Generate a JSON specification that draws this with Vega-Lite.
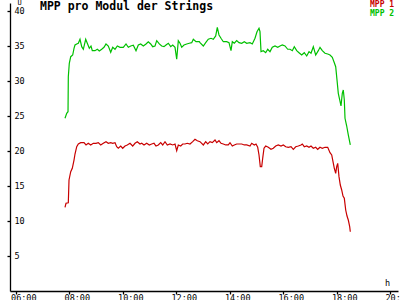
{
  "$schema": "https://vega.github.io/schema/vega-lite/v6.json",
  "width": 388,
  "height": 288,
  "autosize": "none",
  "padding": {"left": 10, "top": 3, "right": 2, "bottom": 9},
  "background": "white",
  "config": {"view": {"stroke": null}, "font": "DejaVu Sans Mono"},
  "title": {"text": "MPP pro Modul der Strings", "anchor": "start", "frame": "group", "font": "DejaVu Sans Mono", "fontSize": 11.5, "fontWeight": "bold", "color": "black", "dx": 30, "offset": -14},
  "layer": [
    {
      "data": {"values": [
        {"t":7.850,"s":"MPP 1","v":11.96},{"t":7.888,"s":"MPP 1","v":12.53},{"t":7.974,"s":"MPP 1","v":12.61},{"t":8.000,"s":"MPP 1","v":15.86},{"t":8.064,"s":"MPP 1","v":17.04},{"t":8.123,"s":"MPP 1","v":17.53},{"t":8.187,"s":"MPP 1","v":18.71},{"t":8.224,"s":"MPP 1","v":19.57},{"t":8.288,"s":"MPP 1","v":20.61},{"t":8.348,"s":"MPP 1","v":21.0},{"t":8.437,"s":"MPP 1","v":21.19},{"t":8.561,"s":"MPP 1","v":21.19},{"t":8.636,"s":"MPP 1","v":20.86},{"t":8.721,"s":"MPP 1","v":21.1},{"t":8.811,"s":"MPP 1","v":20.86},{"t":8.908,"s":"MPP 1","v":21.1},{"t":9.009,"s":"MPP 1","v":21.1},{"t":9.095,"s":"MPP 1","v":21.19},{"t":9.185,"s":"MPP 1","v":20.86},{"t":9.282,"s":"MPP 1","v":21.1},{"t":9.383,"s":"MPP 1","v":21.33},{"t":9.469,"s":"MPP 1","v":21.1},{"t":9.559,"s":"MPP 1","v":21.19},{"t":9.634,"s":"MPP 1","v":21.1},{"t":9.720,"s":"MPP 1","v":21.19},{"t":9.783,"s":"MPP 1","v":20.61},{"t":9.843,"s":"MPP 1","v":20.39},{"t":9.933,"s":"MPP 1","v":20.71},{"t":10.007,"s":"MPP 1","v":20.39},{"t":10.093,"s":"MPP 1","v":20.71},{"t":10.179,"s":"MPP 1","v":20.86},{"t":10.280,"s":"MPP 1","v":21.1},{"t":10.381,"s":"MPP 1","v":20.71},{"t":10.467,"s":"MPP 1","v":21.1},{"t":10.553,"s":"MPP 1","v":21.33},{"t":10.654,"s":"MPP 1","v":21.0},{"t":10.718,"s":"MPP 1","v":21.1},{"t":10.804,"s":"MPP 1","v":20.86},{"t":10.905,"s":"MPP 1","v":21.1},{"t":11.002,"s":"MPP 1","v":20.86},{"t":11.092,"s":"MPP 1","v":21.0},{"t":11.178,"s":"MPP 1","v":21.1},{"t":11.252,"s":"MPP 1","v":20.71},{"t":11.338,"s":"MPP 1","v":20.86},{"t":11.428,"s":"MPP 1","v":21.19},{"t":11.503,"s":"MPP 1","v":20.86},{"t":11.589,"s":"MPP 1","v":21.33},{"t":11.675,"s":"MPP 1","v":20.86},{"t":11.776,"s":"MPP 1","v":21.0},{"t":11.877,"s":"MPP 1","v":20.86},{"t":11.963,"s":"MPP 1","v":21.0},{"t":12.026,"s":"MPP 1","v":20.04},{"t":12.086,"s":"MPP 1","v":20.86},{"t":12.176,"s":"MPP 1","v":20.71},{"t":12.250,"s":"MPP 1","v":21.0},{"t":12.336,"s":"MPP 1","v":21.0},{"t":12.422,"s":"MPP 1","v":21.1},{"t":12.523,"s":"MPP 1","v":21.0},{"t":12.624,"s":"MPP 1","v":21.33},{"t":12.710,"s":"MPP 1","v":21.67},{"t":12.796,"s":"MPP 1","v":21.47},{"t":12.897,"s":"MPP 1","v":21.33},{"t":13.021,"s":"MPP 1","v":20.86},{"t":13.110,"s":"MPP 1","v":21.33},{"t":13.185,"s":"MPP 1","v":21.0},{"t":13.271,"s":"MPP 1","v":21.33},{"t":13.357,"s":"MPP 1","v":21.19},{"t":13.458,"s":"MPP 1","v":21.57},{"t":13.521,"s":"MPP 1","v":21.19},{"t":13.607,"s":"MPP 1","v":21.47},{"t":13.682,"s":"MPP 1","v":21.1},{"t":13.768,"s":"MPP 1","v":21.0},{"t":13.858,"s":"MPP 1","v":20.86},{"t":13.955,"s":"MPP 1","v":20.86},{"t":14.019,"s":"MPP 1","v":21.19},{"t":14.105,"s":"MPP 1","v":20.71},{"t":14.179,"s":"MPP 1","v":20.86},{"t":14.269,"s":"MPP 1","v":21.0},{"t":14.355,"s":"MPP 1","v":21.0},{"t":14.456,"s":"MPP 1","v":21.0},{"t":14.553,"s":"MPP 1","v":20.86},{"t":14.643,"s":"MPP 1","v":20.86},{"t":14.766,"s":"MPP 1","v":20.71},{"t":14.830,"s":"MPP 1","v":21.1},{"t":14.927,"s":"MPP 1","v":20.86},{"t":14.991,"s":"MPP 1","v":21.0},{"t":15.054,"s":"MPP 1","v":20.53},{"t":15.103,"s":"MPP 1","v":19.43},{"t":15.151,"s":"MPP 1","v":17.76},{"t":15.204,"s":"MPP 1","v":17.76},{"t":15.241,"s":"MPP 1","v":18.96},{"t":15.290,"s":"MPP 1","v":20.39},{"t":15.353,"s":"MPP 1","v":20.71},{"t":15.450,"s":"MPP 1","v":20.53},{"t":15.551,"s":"MPP 1","v":20.24},{"t":15.637,"s":"MPP 1","v":20.39},{"t":15.727,"s":"MPP 1","v":20.71},{"t":15.824,"s":"MPP 1","v":20.86},{"t":15.925,"s":"MPP 1","v":20.71},{"t":16.011,"s":"MPP 1","v":20.86},{"t":16.101,"s":"MPP 1","v":20.61},{"t":16.198,"s":"MPP 1","v":20.53},{"t":16.299,"s":"MPP 1","v":20.61},{"t":16.385,"s":"MPP 1","v":20.24},{"t":16.475,"s":"MPP 1","v":20.61},{"t":16.572,"s":"MPP 1","v":20.71},{"t":16.673,"s":"MPP 1","v":20.86},{"t":16.721,"s":"MPP 1","v":21.0},{"t":16.796,"s":"MPP 1","v":20.61},{"t":16.886,"s":"MPP 1","v":20.71},{"t":16.972,"s":"MPP 1","v":20.53},{"t":17.047,"s":"MPP 1","v":20.71},{"t":17.133,"s":"MPP 1","v":20.39},{"t":17.222,"s":"MPP 1","v":20.53},{"t":17.297,"s":"MPP 1","v":20.24},{"t":17.383,"s":"MPP 1","v":20.53},{"t":17.469,"s":"MPP 1","v":20.39},{"t":17.570,"s":"MPP 1","v":20.53},{"t":17.671,"s":"MPP 1","v":20.53},{"t":17.757,"s":"MPP 1","v":19.76},{"t":17.821,"s":"MPP 1","v":19.43},{"t":17.869,"s":"MPP 1","v":18.47},{"t":17.918,"s":"MPP 1","v":17.53},{"t":17.970,"s":"MPP 1","v":16.81},{"t":18.007,"s":"MPP 1","v":17.76},{"t":18.045,"s":"MPP 1","v":18.24},{"t":18.093,"s":"MPP 1","v":16.33},{"t":18.142,"s":"MPP 1","v":15.14},{"t":18.194,"s":"MPP 1","v":14.43},{"t":18.243,"s":"MPP 1","v":13.57},{"t":18.292,"s":"MPP 1","v":13.24},{"t":18.344,"s":"MPP 1","v":11.57},{"t":18.393,"s":"MPP 1","v":10.71},{"t":18.441,"s":"MPP 1","v":10.14},{"t":18.493,"s":"MPP 1","v":9.19},{"t":18.516,"s":"MPP 1","v":8.47},
        {"t":7.850,"s":"MPP 2","v":24.67},{"t":7.914,"s":"MPP 2","v":25.39},{"t":7.963,"s":"MPP 2","v":25.61},{"t":7.974,"s":"MPP 2","v":30.61},{"t":8.011,"s":"MPP 2","v":32.53},{"t":8.064,"s":"MPP 2","v":33.47},{"t":8.138,"s":"MPP 2","v":33.71},{"t":8.187,"s":"MPP 2","v":34.67},{"t":8.224,"s":"MPP 2","v":35.14},{"t":8.288,"s":"MPP 2","v":35.29},{"t":8.348,"s":"MPP 2","v":35.39},{"t":8.411,"s":"MPP 2","v":35.96},{"t":8.475,"s":"MPP 2","v":34.9},{"t":8.535,"s":"MPP 2","v":34.53},{"t":8.624,"s":"MPP 2","v":35.96},{"t":8.684,"s":"MPP 2","v":35.39},{"t":8.759,"s":"MPP 2","v":34.67},{"t":8.822,"s":"MPP 2","v":35.0},{"t":8.871,"s":"MPP 2","v":34.33},{"t":8.972,"s":"MPP 2","v":34.33},{"t":9.058,"s":"MPP 2","v":34.53},{"t":9.133,"s":"MPP 2","v":34.29},{"t":9.222,"s":"MPP 2","v":34.53},{"t":9.308,"s":"MPP 2","v":34.81},{"t":9.383,"s":"MPP 2","v":35.29},{"t":9.469,"s":"MPP 2","v":35.0},{"t":9.559,"s":"MPP 2","v":34.1},{"t":9.634,"s":"MPP 2","v":34.81},{"t":9.720,"s":"MPP 2","v":34.53},{"t":9.806,"s":"MPP 2","v":35.0},{"t":9.907,"s":"MPP 2","v":34.81},{"t":10.030,"s":"MPP 2","v":34.81},{"t":10.131,"s":"MPP 2","v":35.29},{"t":10.217,"s":"MPP 2","v":34.81},{"t":10.307,"s":"MPP 2","v":35.0},{"t":10.404,"s":"MPP 2","v":35.1},{"t":10.505,"s":"MPP 2","v":34.33},{"t":10.591,"s":"MPP 2","v":35.14},{"t":10.680,"s":"MPP 2","v":35.29},{"t":10.778,"s":"MPP 2","v":35.0},{"t":10.879,"s":"MPP 2","v":35.29},{"t":10.964,"s":"MPP 2","v":35.61},{"t":11.054,"s":"MPP 2","v":35.29},{"t":11.129,"s":"MPP 2","v":34.9},{"t":11.215,"s":"MPP 2","v":35.0},{"t":11.279,"s":"MPP 2","v":35.76},{"t":11.376,"s":"MPP 2","v":35.29},{"t":11.465,"s":"MPP 2","v":35.0},{"t":11.551,"s":"MPP 2","v":34.9},{"t":11.626,"s":"MPP 2","v":35.14},{"t":11.712,"s":"MPP 2","v":35.39},{"t":11.802,"s":"MPP 2","v":34.9},{"t":11.877,"s":"MPP 2","v":35.14},{"t":11.963,"s":"MPP 2","v":34.81},{"t":12.026,"s":"MPP 2","v":33.1},{"t":12.086,"s":"MPP 2","v":35.76},{"t":12.150,"s":"MPP 2","v":35.39},{"t":12.213,"s":"MPP 2","v":34.81},{"t":12.299,"s":"MPP 2","v":35.14},{"t":12.400,"s":"MPP 2","v":35.29},{"t":12.497,"s":"MPP 2","v":35.39},{"t":12.587,"s":"MPP 2","v":35.47},{"t":12.647,"s":"MPP 2","v":35.96},{"t":12.748,"s":"MPP 2","v":35.61},{"t":12.871,"s":"MPP 2","v":35.61},{"t":12.897,"s":"MPP 2","v":35.47},{"t":13.021,"s":"MPP 2","v":35.0},{"t":13.110,"s":"MPP 2","v":35.47},{"t":13.207,"s":"MPP 2","v":35.96},{"t":13.308,"s":"MPP 2","v":36.1},{"t":13.394,"s":"MPP 2","v":35.96},{"t":13.484,"s":"MPP 2","v":36.43},{"t":13.544,"s":"MPP 2","v":37.67},{"t":13.607,"s":"MPP 2","v":36.57},{"t":13.682,"s":"MPP 2","v":36.1},{"t":13.768,"s":"MPP 2","v":35.61},{"t":13.895,"s":"MPP 2","v":35.61},{"t":13.981,"s":"MPP 2","v":35.47},{"t":14.056,"s":"MPP 2","v":34.33},{"t":14.105,"s":"MPP 2","v":35.61},{"t":14.179,"s":"MPP 2","v":35.39},{"t":14.269,"s":"MPP 2","v":35.76},{"t":14.355,"s":"MPP 2","v":35.47},{"t":14.456,"s":"MPP 2","v":35.39},{"t":14.553,"s":"MPP 2","v":35.61},{"t":14.643,"s":"MPP 2","v":35.39},{"t":14.766,"s":"MPP 2","v":35.47},{"t":14.852,"s":"MPP 2","v":35.29},{"t":14.953,"s":"MPP 2","v":36.1},{"t":15.028,"s":"MPP 2","v":37.04},{"t":15.103,"s":"MPP 2","v":37.53},{"t":15.140,"s":"MPP 2","v":37.04},{"t":15.178,"s":"MPP 2","v":34.19},{"t":15.264,"s":"MPP 2","v":34.33},{"t":15.353,"s":"MPP 2","v":34.04},{"t":15.428,"s":"MPP 2","v":34.53},{"t":15.514,"s":"MPP 2","v":34.19},{"t":15.600,"s":"MPP 2","v":34.81},{"t":15.701,"s":"MPP 2","v":35.0},{"t":15.802,"s":"MPP 2","v":34.81},{"t":15.888,"s":"MPP 2","v":35.0},{"t":15.974,"s":"MPP 2","v":35.14},{"t":16.075,"s":"MPP 2","v":35.0},{"t":16.176,"s":"MPP 2","v":34.53},{"t":16.262,"s":"MPP 2","v":34.53},{"t":16.348,"s":"MPP 2","v":34.33},{"t":16.422,"s":"MPP 2","v":34.9},{"t":16.512,"s":"MPP 2","v":34.33},{"t":16.598,"s":"MPP 2","v":34.04},{"t":16.699,"s":"MPP 2","v":33.71},{"t":16.796,"s":"MPP 2","v":34.04},{"t":16.886,"s":"MPP 2","v":33.57},{"t":16.972,"s":"MPP 2","v":34.19},{"t":17.047,"s":"MPP 2","v":33.96},{"t":17.133,"s":"MPP 2","v":34.9},{"t":17.222,"s":"MPP 2","v":33.71},{"t":17.320,"s":"MPP 2","v":34.33},{"t":17.383,"s":"MPP 2","v":34.81},{"t":17.469,"s":"MPP 2","v":34.33},{"t":17.570,"s":"MPP 2","v":33.96},{"t":17.671,"s":"MPP 2","v":33.86},{"t":17.757,"s":"MPP 2","v":33.71},{"t":17.843,"s":"MPP 2","v":33.39},{"t":17.918,"s":"MPP 2","v":32.61},{"t":17.970,"s":"MPP 2","v":32.04},{"t":18.019,"s":"MPP 2","v":30.14},{"t":18.067,"s":"MPP 2","v":28.24},{"t":18.120,"s":"MPP 2","v":27.29},{"t":18.168,"s":"MPP 2","v":26.43},{"t":18.217,"s":"MPP 2","v":28.24},{"t":18.254,"s":"MPP 2","v":28.71},{"t":18.292,"s":"MPP 2","v":27.29},{"t":18.318,"s":"MPP 2","v":24.67},{"t":18.381,"s":"MPP 2","v":23.57},{"t":18.441,"s":"MPP 2","v":22.29},{"t":18.516,"s":"MPP 2","v":20.86}
      ]},
      "mark": {"type": "line", "strokeWidth": 1.2},
      "encoding": {
        "x": {"field": "t", "type": "quantitative",
          "scale": {"domain": [5.794, 20.299], "nice": false, "zero": false},
          "axis": {"values": [6, 8, 10, 12, 14, 16, 18, 20], "labelExpr": "(datum.value < 10 ? '0' : '') + datum.value + ':00'", "zindex": 1,
            "domain": true, "domainColor": "#000000", "domainWidth": 1.3, "grid": false, "tickSize": 3, "tickColor": "#000000", "tickWidth": 1.3,
            "labelFont": "DejaVu Sans Mono", "labelFontSize": 8.5, "labelColor": "black", "labelAlign": "left", "labelOffset": -5, "labelPadding": -1, "labelBaseline": "top", "labelFlush": false, "labelOverlap": false,
            "title": "h", "titleFont": "DejaVu Sans Mono", "titleFontSize": 8.5, "titleFontWeight": "normal", "titleColor": "black", "titleX": 377, "titleY": -9, "titleAlign": "center", "titleBaseline": "middle"}},
        "y": {"field": "v", "type": "quantitative",
          "scale": {"domain": [0, 41.14], "nice": false},
          "axis": {"values": [5, 10, 15, 20, 25, 30, 35, 40], "zindex": 1,
            "domain": true, "domainColor": "#000000", "domainWidth": 1.3, "grid": false, "tickSize": 3, "tickColor": "#000000", "tickWidth": 1.3,
            "labelFont": "DejaVu Sans Mono", "labelFontSize": 8.5, "labelColor": "black", "labelAlign": "left", "labelPadding": -7, "labelBaseline": "middle", "labelFlush": false, "labelOverlap": false,
            "title": "U", "titleFont": "DejaVu Sans Mono", "titleFontSize": 7, "titleFontWeight": "normal", "titleColor": "black", "titleAngle": 0, "titleX": 7, "titleY": -1, "titleAlign": "left", "titleBaseline": "middle"}},
        "color": {"field": "s", "type": "nominal",
          "scale": {"domain": ["MPP 1", "MPP 2"], "range": ["#c80000", "#00c000"]},
          "legend": null}
      }
    },
    {
      "data": {"values": [{"s": "MPP 1"}]},
      "mark": {"type": "text", "align": "left", "baseline": "middle", "font": "DejaVu Sans Mono", "fontSize": 8, "fontWeight": "bold"},
      "encoding": {
        "x": {"datum": 19.252, "type": "quantitative"},
        "y": {"datum": 40.86, "type": "quantitative"},
        "text": {"field": "s", "type": "nominal"},
        "color": {"field": "s", "type": "nominal", "legend": null}
      }
    },
    {
      "data": {"values": [{"s": "MPP 2"}]},
      "mark": {"type": "text", "align": "left", "baseline": "middle", "font": "DejaVu Sans Mono", "fontSize": 8, "fontWeight": "bold"},
      "encoding": {
        "x": {"datum": 19.252, "type": "quantitative"},
        "y": {"datum": 39.6, "type": "quantitative"},
        "text": {"field": "s", "type": "nominal"},
        "color": {"field": "s", "type": "nominal", "legend": null}
      }
    }
  ]
}
